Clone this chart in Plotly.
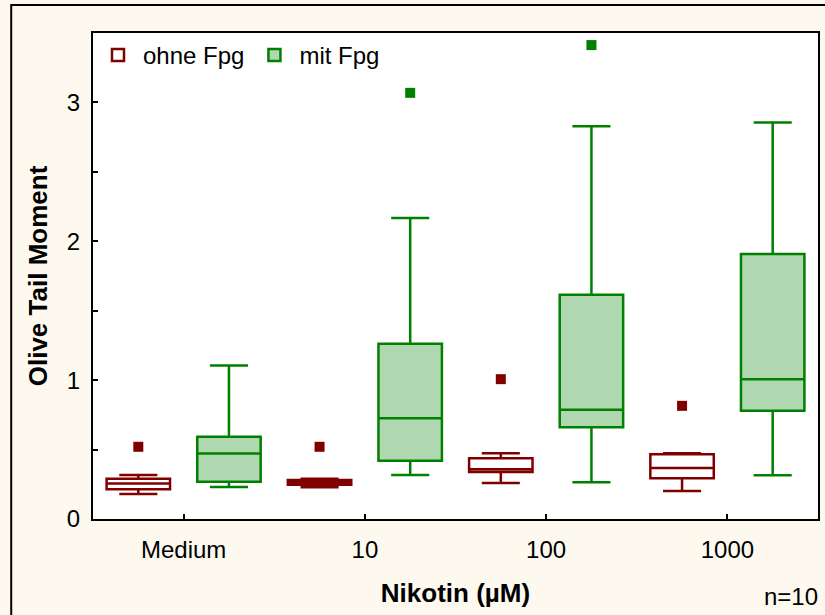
import plotly.graph_objects as go

categories = ["Medium", "10", "100", "1000"]

# ohne Fpg
ohne_q1 = [0.215, 0.247, 0.339, 0.293]
ohne_median = [0.255, 0.265, 0.358, 0.368]
ohne_q3 = [0.290, 0.281, 0.438, 0.466]
ohne_low = [0.180, 0.229, 0.260, 0.202]
ohne_high = [0.317, 0.290, 0.474, 0.474]
ohne_outliers = [0.52, 0.52, 1.007, 0.815]

# mit Fpg
mit_q1 = [0.269, 0.420, 0.661, 0.779]
mit_median = [0.471, 0.726, 0.786, 1.007]
mit_q3 = [0.593, 1.262, 1.615, 1.908]
mit_low = [0.231, 0.317, 0.265, 0.315]
mit_high = [1.105, 2.168, 2.829, 2.855]
mit_outliers = [None, 3.069, 3.413, None]

y_ticks = [0, 0.5, 1, 1.5, 2, 2.5, 3, 3.5]
y_ticktext = ["0", "", "1", "", "2", "", "3", ""]

RED = "#800000"
GREEN = "#008000"
FONT = "Liberation Sans, Arial, sans-serif"

pos = list(range(len(categories)))
off = 0.25
x_ohne = [p - off for p in pos]
x_mit = [p + off for p in pos]

fig = go.Figure()
fig.add_trace(go.Box(
    name="ohne Fpg", x=x_ohne, q1=ohne_q1, median=ohne_median, q3=ohne_q3,
    lowerfence=ohne_low, upperfence=ohne_high, width=0.35, whiskerwidth=0.6,
    fillcolor="white", line=dict(color=RED, width=2.5), boxpoints=False,
))
fig.add_trace(go.Box(
    name="mit Fpg", x=x_mit, q1=mit_q1, median=mit_median, q3=mit_q3,
    lowerfence=mit_low, upperfence=mit_high, width=0.35, whiskerwidth=0.6,
    fillcolor="rgb(176,216,176)", line=dict(color=GREEN, width=2.5), boxpoints=False,
))
fig.add_trace(go.Scatter(
    x=x_ohne, y=ohne_outliers, mode="markers", showlegend=False,
    marker=dict(symbol="square", size=10, color=RED), hoverinfo="skip",
))
fig.add_trace(go.Scatter(
    x=x_mit, y=mit_outliers, mode="markers", showlegend=False,
    marker=dict(symbol="square", size=10, color=GREEN), hoverinfo="skip",
))

fig.update_layout(
    width=825, height=615,
    margin=dict(l=93, r=5, t=33, b=96),
    paper_bgcolor="#fdf9ef", plot_bgcolor="white",
    font=dict(family=FONT, size=24, color="black"),
    boxmode="overlay",
    showlegend=True,
    legend=dict(orientation="h", x=0.0, y=1.0, xanchor="left", yanchor="top",
                bgcolor="rgba(0,0,0,0)", font=dict(size=24), itemwidth=40),
    xaxis=dict(
        range=[-0.5, 3.5], tickmode="array", tickvals=pos, ticktext=categories,
        ticks="inside", ticklen=5, tickwidth=2, tickcolor="black",
        showline=True, linewidth=2, linecolor="black", mirror=True,
        showgrid=False, zeroline=False, ticklabelstandoff=8,
        title=dict(text="<b>Nikotin (µM)</b>", font=dict(size=26), standoff=22),
    ),
    yaxis=dict(
        range=[0, 3.5], tickmode="array", tickvals=y_ticks, ticktext=y_ticktext,
        ticks="inside", ticklen=5, tickwidth=2, tickcolor="black",
        showline=True, linewidth=2, linecolor="black", mirror=True,
        showgrid=False, zeroline=False, ticklabelstandoff=6,
        title=dict(text="<b>Olive Tail Moment</b>", font=dict(size=26), standoff=12),
    ),
    shapes=[dict(type="rect", xref="paper", yref="paper",
                 x0=-0.1128, x1=1.2, y0=-0.4, y1=1.0576,
                 line=dict(color="black", width=2), fillcolor="rgba(0,0,0,0)",
                 layer="below")],
    annotations=[dict(text="n=10", xref="paper", yref="paper", x=1.003, y=-0.16,
                      xanchor="right", yanchor="middle", showarrow=False,
                      font=dict(size=24))],
)

fig.write_html("out.html")
